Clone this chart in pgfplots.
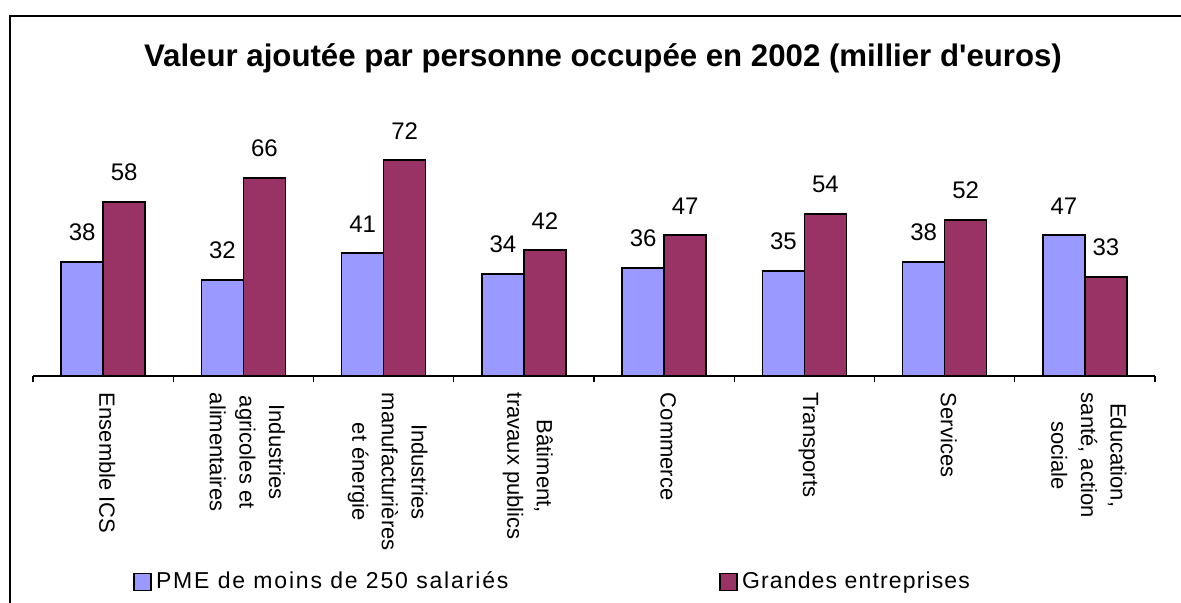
\documentclass[border=0pt]{standalone}
\usepackage{fontspec}
\setmainfont{Liberation Sans}
\newfontfamily\legfontA[LetterSpace=8]{Liberation Sans}
\newfontfamily\legfontB[LetterSpace=5]{Liberation Sans}
\usepackage{pgfplots}
\pgfplotsset{compat=1.18}
\definecolor{pme}{HTML}{9999FF}
\definecolor{ge}{HTML}{993366}
\begin{document}
\begin{tikzpicture}
\useasboundingbox (0,0) rectangle (590.5pt,301.5pt);
\draw[line width=1pt] (5pt,0) -- (5pt,293.5pt) -- (590.5pt,293.5pt);
\node[anchor=base, font=\bfseries\fontsize{15.6}{18}\selectfont] at (301.5pt,268pt) {Valeur ajoutée par personne occupée en 2002 (millier d\textquotesingle euros)};
\begin{axis}[
  at={(16.5pt,113.5pt)}, anchor=south west,
  scale only axis, width=561pt, height=120pt,
  xmin=-0.5, xmax=7.5, ymin=0, ymax=80,
  ybar=0pt, bar width=21pt,
  axis x line=bottom, axis y line=none,
  axis line style={-, black, line width=0.6pt},
  xtick={0,...,7},
  xticklabels={Ensemble ICS, {Industries\\agricoles et\\alimentaires}, {Industries\\manufacturières\\et énergie}, {Bâtiment,\\travaux publics}, Commerce, Transports, Services, {Education,\\santé, action\\sociale}},
  major x tick style={draw=none},
  minor xtick={-0.5,0.5,...,7.5},
  minor tick length=3pt, tick align=outside,
  minor x tick style={black, line width=0.6pt},
  xticklabel shift=4pt,
  xticklabel style={xshift=2pt, rotate=-90, anchor=west, align=center, inner sep=0pt, font=\fontsize{11}{14.8}\selectfont},
  nodes near coords,
  nodes near coords style={font=\fontsize{12}{14}\selectfont, inner sep=0pt, yshift=10pt},
  /pgf/number format/assume math mode=true,
  clip=false,
  legend columns=2,
  legend style={draw=none, at={(0.0838,-0.858)}, anchor=west, font=\fontsize{11.5}{13}\selectfont, /tikz/every even column/.append style={column sep=103.5pt}},
  legend image code/.code={\draw[#1] (0pt,-4.25pt) rectangle (8.5pt,4.25pt);},
]
\addplot[fill=pme, draw=black, line width=0.8pt] coordinates {(0,38) (1,32) (2,41) (3,34) (4,36) (5,35) (6,38) (7,47)};
\addplot[fill=ge, draw=black, line width=0.8pt] coordinates {(0,58) (1,66) (2,72) (3,42) (4,47) (5,54) (6,52) (7,33)};
\legend{{\legfontA PME de moins de 250 salariés}, {\legfontB Grandes entreprises}}
\end{axis}
\end{tikzpicture}
\end{document}
